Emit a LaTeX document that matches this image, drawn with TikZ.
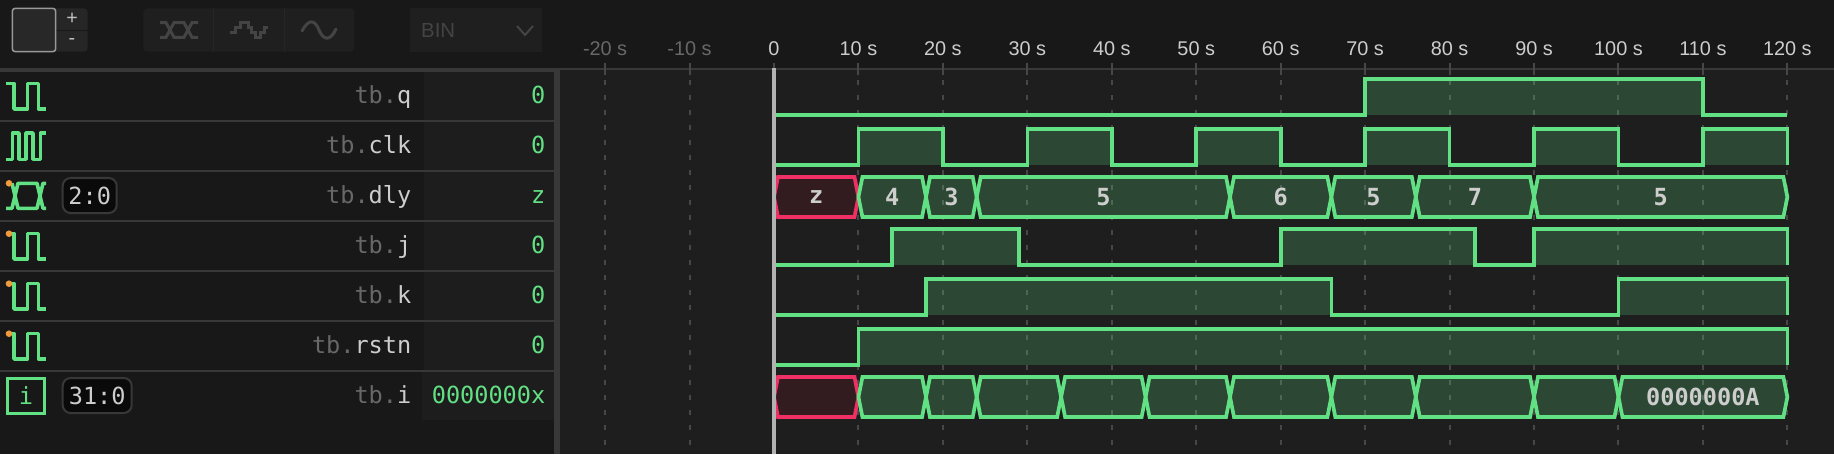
\documentclass[tikz,border=0pt]{standalone}
\usepackage{fontspec}
\setmainfont{Liberation Sans}
\setmonofont{DejaVu Sans Mono}
\definecolor{barbg}{HTML}{181818}
\definecolor{wavebg}{HTML}{1E1E1E}
\definecolor{valbg}{HTML}{1D1D1D}
\definecolor{rule}{HTML}{383838}
\definecolor{gridc}{HTML}{474747}
\definecolor{sigc}{HTML}{62E184}
\definecolor{badc}{HTML}{EF3065}
\definecolor{badbg}{HTML}{321C20}
\definecolor{dotc}{HTML}{F09A3E}
\definecolor{dimc}{HTML}{686868}
\definecolor{textc}{HTML}{CDCDCD}
\definecolor{offc}{HTML}{444444}
\definecolor{groupc}{HTML}{1F1F1F}
\tikzset{
  sigline/.style={draw=sigc,line width=0.037cm,miter limit=4},
  sigfill/.style={fill=sigc,fill opacity=0.21},
  busseg/.style={sigline,sigfill},
  badseg/.style={draw=badc,fill=badbg,line width=0.037cm},
  icon/.style={draw=sigc,line width=0.036cm,line join=round},
  officon/.style={draw=offc,line width=0.03cm},
  ticklabel/.style={anchor=base,inner sep=0pt,text=textc,font=\fontsize{5.65}{7}\selectfont},
  rowname/.style={anchor=base east,inner sep=0pt,font=\ttfamily\fontsize{6.7}{8}\selectfont},
  rowval/.style={anchor=base east,inner sep=0pt,text=sigc,font=\ttfamily\fontsize{6.7}{8}\selectfont},
  badge/.style={draw=rule,fill=black!60!barbg,line width=0.02cm,rounded corners=0.08cm,inner sep=0pt,
    minimum height=0.35cm,text=textc,font=\ttfamily\fontsize{6.7}{8}\selectfont},
  seglabel/.style={inner sep=0pt,text=textc,font=\ttfamily\bfseries\fontsize{6.7}{8}\selectfont}
}
\begin{document}
\begin{tikzpicture}[x=0.01cm,y=-0.01cm]
\useasboundingbox (0,0) rectangle (1834,454);
\fill[wavebg] (0,0) rectangle (1834,454);
\fill[barbg] (0,0) rectangle (1834,68);
\fill[barbg] (0,68) rectangle (554,454);
\fill[rule] (554,68) rectangle (560,454);
\fill[valbg] (424,72) rectangle (554,372);
\fill[valbg] (422,372) rectangle (554,420);
\fill[rule] (0,68.3) rectangle (554,72);
\draw[rule,line width=0.018cm] (560,69)--(1834,69);
\foreach \y in {121,171,221,271,321,371}
  \draw[rule,line width=0.018cm] (0,\y)--(554,\y);

\fill[wavebg!70!rule,rounded corners=0.04cm] (50,8.3) rectangle (87.7,51.7);
\draw[barbg,line width=0.015cm] (56,30.7)--(87.7,30.7);
\draw[draw=black!40!white,fill=wavebg!60!rule,line width=0.015cm,rounded corners=0.03cm] (12.3,8.3) rectangle (55.7,51.7);
\node[inner sep=0pt,text=black!25!white,font=\fontsize{5.6}{7}\selectfont] (plus) at (72,19) {+};
\node[inner sep=0pt,text=black!25!white,font=\fontsize{5.6}{7}\selectfont] (minus) at (72,41) {-};

\fill[groupc,rounded corners=0.04cm] (143.3,8.3) rectangle (354.3,51.7);
\draw[wavebg!70!rule,line width=0.01cm] (213,8.3)--(213,51.7);
\draw[wavebg!70!rule,line width=0.01cm] (284,8.3)--(284,51.7);
\draw[officon] (160,22.7)--(166,22.7)--(174,37.3)--(184,37.3)--(192,22.7)--(198,22.7);
\draw[officon] (160,37.3)--(166,37.3)--(174,22.7)--(184,22.7)--(192,37.3)--(198,37.3);
\draw[officon] (230,32)--(235,32)--(235,27)--(240,27)--(240,22)--(248,22)--(248,27)--(251,27)--(251,32)--(255,32)--(255,37)--(260,37)--(260,32)--(264,32)--(264,27)--(268,27);
\draw[officon,line cap=round] (302,31) .. controls (309,18) and (315,20) .. (319,30) .. controls (323,40) and (330,42) .. (336,29);

\fill[groupc] (410,8.3) rectangle (542,51.7);
\node[anchor=base west,inner sep=0pt,text=offc,font=\fontsize{5.8}{7}\selectfont] (radix) at (420.5,37.5) {BIN};
\draw[officon,line width=0.02cm] (517,26)--(525,35)--(533,26);

\foreach \nm/\v/\y in {q/0/103.5,clk/0/153.5,dly/z/203.5,j/0/253.5,k/0/303.5,rstn/0/353.5,i/0000000x/403.5}{
  \node[rowname] (name\nm) at (412,\y) {\textcolor{dimc}{tb.}\textcolor{textc}{\nm}};
  \node[rowval] (val\nm) at (546,\y) {\v};
}

\foreach \y in {103.5,253.5,303.5,353.5}
  \draw[icon] (6.4,\y-20)--(14,\y-20)--(14,\y+5.5)--(27.5,\y+5.5)--(27.5,\y-20)--(38.6,\y-20)--(38.6,\y+5.5)--(45.7,\y+5.5);
\draw[icon] (6,159.3)--(12.5,159.3)--(12.5,133)--(19,133)--(19,159.3)--(26,159.3)--(26,133)--(33,133)--(33,159.3)--(40.5,159.3)--(40.5,133)--(45.7,133);
\draw[icon] (12,183.3)--(18,208.3)--(37,208.3)--(43,183.3)--(46,183.3);
\draw[icon] (6,208.3)--(12,208.3)--(18,183.3)--(37,183.3)--(43,208.3)--(46,208.3);
\foreach \y in {183.3,233.7,283.7,333.7}
  \fill[dotc] (9,\y) circle (3.3);
\draw[sigline] (7.6,378.5) rectangle (44.4,413.5);
\node[inner sep=0pt,text=sigc,font=\ttfamily\fontsize{6.7}{8}\selectfont] (iconi) at (26,396) {i};
\node[badge,minimum width=0.54cm] (width2) at (89.7,195.5) {2:0};
\node[badge,minimum width=0.69cm] (width31) at (97.2,395.5) {31:0};

\begin{scope}[shift={(774,0)},x=0.0844cm]
\foreach \t in {-20,-10,...,120}{
  \draw[gridc,line width=0.02cm] (\t,63)--(\t,74.5);
  \draw[gridc,line width=0.02cm,dash pattern=on 0.05cm off 0.10cm] (\t,80)--(\t,454);
}
\foreach \t in {10,20,...,120}
  \node[ticklabel] (tick\t) at (\t,55) {\t{} s};
\node[ticklabel,text=dimc] (tickm20) at (-20,55) {-20 s};
\node[ticklabel,text=dimc] (tickm10) at (-10,55) {-10 s};
\node[ticklabel] (tick0) at (0,55) {0};

\foreach \yl/\a/\b in {115/70/110,
  165/10/20,165/30/40,165/50/60,165/70/80,165/90/100,165/110/120,
  265/14/29,265/60/83,265/90/120,
  315/18/66,315/100/120,
  365/10/120}
  \fill[sigfill] (\a,\yl) rectangle (\b,\yl-36);

\draw[sigline] (0,115)--(70,115)--(70,79)--(110,79)--(110,115)--(120,115);
\draw[sigline] (0,165)--(10,165)--(10,129)--(20,129)--(20,165)--(30,165)--(30,129)--(40,129)--(40,165)--(50,165)--(50,129)--(60,129)--(60,165)--(70,165)--(70,129)--(80,129)--(80,165)--(90,165)--(90,129)--(100,129)--(100,165)--(110,165)--(110,129)--(120,129)--(120,165);
\draw[sigline] (0,265)--(14,265)--(14,229)--(29,229)--(29,265)--(60,265)--(60,229)--(83,229)--(83,265)--(90,265)--(90,229)--(120,229)--(120,265);
\draw[sigline] (0,315)--(18,315)--(18,279)--(66,279)--(66,315)--(100,315)--(100,279)--(120,279)--(120,315);
\draw[sigline] (0,365)--(10,365)--(10,329)--(120,329)--(120,365);

\draw[badseg] (0,197)--(0.47,177)--(9.53,177)--(10,197)--(9.53,217)--(0.47,217)--cycle;
\draw[badseg] (0,397)--(0.47,377)--(9.53,377)--(10,397)--(9.53,417)--(0.47,417)--cycle;
\node[seglabel] (dlyz) at (5,197) {z};
\foreach \a/\b/\v in {10/18/4,18/24/3,24/54/5,54/66/6,66/76/5,76/90/7,90/120/5}{
  \draw[busseg] (\a,197)--(\a+0.47,177)--(\b-0.47,177)--(\b,197)--(\b-0.47,217)--(\a+0.47,217)--cycle;
  \node[seglabel] (dly\a) at ({(\a+\b)/2},197) {\v};
}
\foreach \a/\b in {10/18,18/24,24/34,34/44,44/54,54/66,66/76,76/90,90/100,100/120}
  \draw[busseg] (\a,397)--(\a+0.47,377)--(\b-0.47,377)--(\b,397)--(\b-0.47,417)--(\a+0.47,417)--cycle;
\node[seglabel] (ilast) at (110,397) {0000000A};

\fill[black!30!white] (-0.24,68) rectangle (0.24,454);
\end{scope}
\end{tikzpicture}
\end{document}
